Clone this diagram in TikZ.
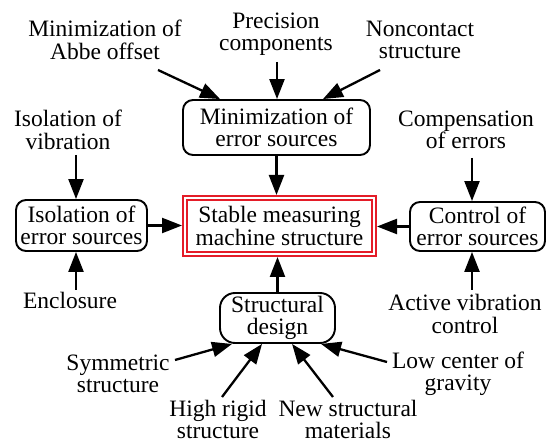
\documentclass[tikz,border=0pt]{standalone}
\usepackage{fontspec}
\setmainfont{Liberation Serif}
\usetikzlibrary{arrows.meta}
\definecolor{boxred}{RGB}{228,28,40}
\tikzset{
  every node/.style={font=\fontsize{23.5}{22.5}\selectfont, align=center, inner sep=0pt},
  rbox/.style={draw, line width=1.9pt, rounded corners=10pt},
  mainbox/.style={draw=boxred, line width=2pt, double=white, double distance=2pt, outer sep=3pt},
  arr/.style={line width=2.3pt, -{Triangle[length=20pt,width=15pt]}},
}
\begin{document}
\begin{tikzpicture}[x=1pt,y=-1pt]
\useasboundingbox (0,0) rectangle (547,443);

% boxes
\node[rbox, minimum width=187pt, minimum height=55pt] (minerr) at (276.5,127.5) {Minimization of\\error sources};
\node[mainbox, minimum width=189pt, minimum height=56pt] (main) at (279.5,226) {Stable measuring\\machine structure};
\node[rbox, minimum width=131pt, minimum height=51pt] (iso) at (81.5,225.5) {Isolation of\\error sources};
\node[rbox, minimum width=135pt, minimum height=49pt] (ctrl) at (477.5,226.5) {Control of\\error sources};
\node[rbox, rounded corners=15pt, minimum width=115pt, minimum height=50pt] (sd) at (277.5,318) {Structural\\design};

% labels
\node (abbe) at (105,40) {Minimization of\\Abbe offset};
\node (prec) at (276,34) {Precision\\components};
\node (nonc) at (420,40) {Noncontact\\structure};
\node (isovib) at (68,130) {Isolation of\\vibration};
\node (comp) at (466,130) {Compensation\\of errors};
\node (encl) at (70,300) {Enclosure};
\node (active) at (465,314) {Active vibration\\control};
\node (sym) at (118,374) {Symmetric\\structure};
\node (high) at (218,419.5) {High rigid\\structure};
\node (newm) at (348,419.5) {New structural\\materials};
\node (low) at (458,374) {Low center of\\gravity};

% free start points of connectors
\coordinate (abbeS) at (158,70);
\coordinate (precS) at (277,62);
\coordinate (noncS) at (380,70);
\coordinate (isovibS) at (76,155);
\coordinate (enclS) at (76,290);
\coordinate (compS) at (472,158);
\coordinate (activeS) at (472,290);
\coordinate (symS) at (175,360);
\coordinate (highS) at (222,397);
\coordinate (newmS) at (333,397);
\coordinate (lowS) at (387,362);

% connectors
\draw[arr] (abbeS) -- ([xshift=38pt]minerr.north west);
\draw[arr] (precS) -- (precS |- minerr.north);
\draw[arr] (noncS) -- ([xshift=-48pt]minerr.north east);
\draw[arr] (minerr.south) -- (minerr.south |- main.north);
\draw[arr] (sd.north) -- (sd.north |- main.south);
\draw[arr] (iso.east) -- (iso.east -| main.west);
\draw[arr] (ctrl.west) -- (ctrl.west -| main.east);
\draw[arr] (isovibS) -- (isovibS |- iso.north);
\draw[arr] (enclS) -- (enclS |- iso.south);
\draw[arr] (compS) -- (compS |- ctrl.north);
\draw[arr] (activeS) -- (activeS |- ctrl.south);
\draw[arr] (symS) -- ([xshift=13pt]sd.south west);
\draw[arr] (highS) -- ([xshift=43pt]sd.south west);
\draw[arr] (newmS) -- ([xshift=73pt]sd.south west);
\draw[arr] (lowS) -- ([xshift=102pt]sd.south west);
\end{tikzpicture}
\end{document}
